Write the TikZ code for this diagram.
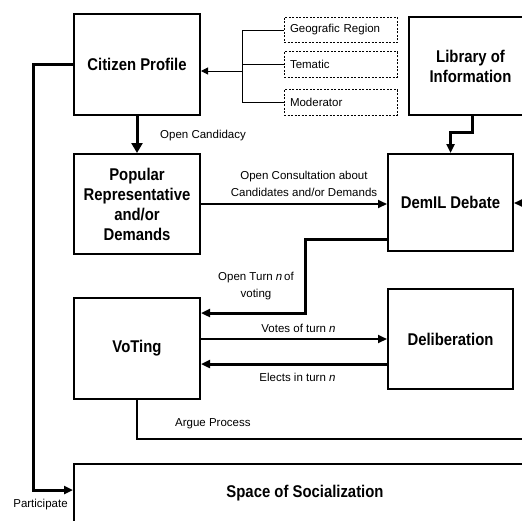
\documentclass[tikz,border=0pt]{standalone}
\usepackage{fontspec}
\setmainfont{Liberation Sans}
\newfontfamily\boxfont{Liberation Sans}[FakeStretch=0.875]
\usetikzlibrary{arrows.meta}
\begin{document}
\begin{tikzpicture}[x=1pt,y=-1pt,
  box/.style={draw=black,line width=2pt,inner sep=0pt,align=center,
    font=\boxfont\bfseries\fontsize{17}{20}\selectfont},
  opt/.style={draw=black,line width=0.9pt,dash pattern=on 2pt off 1.5pt,inner sep=0pt,
    minimum width=113pt,minimum height=25.5pt,text width=101pt,align=left,
    font=\fontsize{11.5}{13}\selectfont},
  lbl/.style={inner sep=0pt,align=center,font=\fontsize{11.5}{17}\selectfont},
  arr/.style={-{Triangle[length=9pt,width=8pt]}},
  bigarr/.style={-{Triangle[length=10pt,width=11pt]}},
  thin/.style={line width=1pt},
  med/.style={line width=2pt},
  heavy/.style={line width=3pt}]
\clip (0,0) rectangle (522,520);
\fill[white] (0,0) rectangle (522,520);

% main boxes
\node[box,minimum width=126pt,minimum height=101pt] (cp) at (137,64.5) {Citizen Profile};
\node[box,minimum width=126pt,minimum height=100pt] (pr) at (137,204) {Popular\\Representative\\and/or\\Demands};
\node[box,minimum width=126pt,minimum height=101pt] (vt) at (137,348.5) {VoTing};
\node[box,minimum width=462pt,minimum height=58pt] (ss) at (305,493) {Space of Socialization};
\node[box,minimum width=123pt,minimum height=98pt] (lib) at (470.5,66) {Library of\\Information};
\node[box,minimum width=125pt,minimum height=97pt] (db) at (450.5,202.5) {DemIL Debate};
\node[box,minimum width=125pt,minimum height=100pt] (del) at (450.5,339) {Deliberation};

% dashed option boxes
\node[opt] (g) at (340.5,30) {Geografic Region};
\node[opt] (t) at (340.5,64.5) {Tematic};
\node[opt] (m) at (340.5,102.5) {Moderator};

% bracket
\coordinate (bt) at (242,30);
\coordinate (bb) at (242,102.5);
\coordinate (ba) at (242,71);
\draw[thin] (g.west) -- (bt) -- (bb) -- (m.west);
\draw[thin] (t.west) -- (t.west -| bt);
\draw[thin,-{Triangle[length=7pt,width=7pt]}] (ba) -- (ba -| cp.east);

% citizen -> popular
\draw[heavy,bigarr] (cp.south) -- (pr.north);
\node[lbl,anchor=west] (oc) at (160,136) {Open Candidacy};

% participate
\coordinate (p2) at (33,490);
\draw[heavy,arr] (cp.west) -| (p2) -- (p2 -| ss.west);
\node[lbl] (pl) at (40.5,505) {Participate};

% popular -> debate
\draw[med,arr] (pr.east) -- (pr.east -| db.west);
\node[lbl] (ocl) at (304,183.5) {Open Consultation about\\Candidates and/or Demands};

% debate -> voting
\coordinate (o1) at (305,239);
\coordinate (o2) at (305,313);
\draw[heavy,arr] (o1 -| db.west) -- (o1) -- (o2) -- (o2 -| vt.east);
\node[lbl] (otl) at (256,286) {Open Turn \textit{n}\,of\\voting};

% votes
\coordinate (v1) at (300,339);
\draw[med,arr] (v1 -| vt.east) -- (v1 -| del.west);
\node[lbl] (vl) at (298.5,328) {Votes of turn \textit{n}};

% elects
\coordinate (e1) at (300,364);
\draw[heavy,arr] (e1 -| del.west) -- (e1 -| vt.east);
\node[lbl] (el) at (297.5,377) {Elects in turn \textit{n}};

% argue process
\coordinate (ae) at (524,439);
\draw[med] (vt.south) |- (ae);
\node[lbl,anchor=west] (al) at (175,424) {Argue Process};

% library -> debate
\coordinate (l1) at (472,132);
\draw[heavy,arr] (l1 |- lib.south) -- (l1) -- (l1 -| db.north) -- (db.north);

% incoming from right
\coordinate (re) at (530,203);
\draw[med,arr] (re) -- (re -| db.east);
\end{tikzpicture}
\end{document}
